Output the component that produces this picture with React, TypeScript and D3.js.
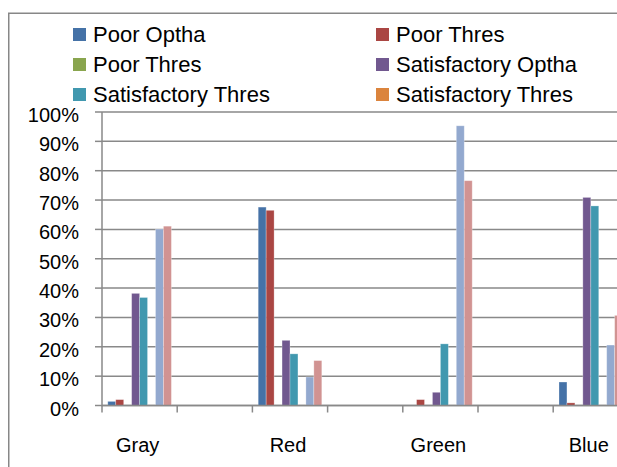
import React from "react";
import * as d3 from "d3";

const categories = ["Gray", "Red", "Green", "Blue"];
const slots = ["Gray", "gap1", "Red", "gap2", "Green", "gap3", "Blue"];
const legendLabels = [
  "Poor Optha",
  "Poor Thres",
  "Poor Thres",
  "Satisfactory Optha",
  "Satisfactory Thres",
  "Satisfactory Thres",
];
const poorOptha = [1.4, 67.6, 0, 8.0];
const poorThres = [2.0, 66.5, 2.0, 0.9];
const poorThres2 = [0, 0, 0, 0];
const satOptha = [38.2, 22.2, 4.5, 70.9];
const satThres = [36.8, 17.6, 21.0, 68.0];
const satThres2 = [0, 0, 0, 0];
const series7 = [60.1, 9.7, 95.3, 20.6];
const series8 = [61.1, 15.3, 76.6, 30.7];
const seriesValues = [poorOptha, poorThres, poorThres2, satOptha, satThres, satThres2, series7, series8];
const colors = ["#4572A7", "#AA4643", "#89A54E", "#71588F", "#4198AF", "#DB843D", "#93A9CF", "#D19392"];
const yTicks = [0, 10, 20, 30, 40, 50, 60, 70, 80, 90, 100];

const FONT = "'Liberation Sans', Arial, sans-serif";

export default function App() {
  const W = 617;
  const H = 467;
  const x = d3.scaleBand<string>().domain(slots).range([102, 628.4]).padding(0);
  const bw = x.bandwidth();
  const inner = d3
    .scaleBand<number>()
    .domain(d3.range(seriesValues.length))
    .range([5.8, bw - 5.8])
    .padding(0);
  const y = d3.scaleLinear().domain([0, 100]).range([405.5, 112]);
  const grid = "#898989";

  return (
    <svg
      width={W}
      height={H}
      style={{ position: "absolute", left: 0, top: 0, background: "#fff" }}
      fontFamily={FONT}
    >
      <rect x={0} y={0} width={W} height={H} fill="#fff" />
      {/* chart border */}
      <rect x={8.75} y={13.25} width={W + 20} height={H + 20} fill="none" stroke="#878787" strokeWidth={1.5} />

      {/* legend */}
      {legendLabels.map((lab, i) => {
        const col = i % 2;
        const row = Math.floor(i / 2);
        const sx = col === 0 ? 73 : 376;
        const cy = 34.5 + row * 30;
        return (
          <g key={"lg" + i}>
            <rect x={sx} y={cy - 6.5} width={13} height={13} fill={colors[i]} />
            <text x={sx + 20} y={cy + 7.5} fontSize={22} fill="#000">
              {lab}
            </text>
          </g>
        );
      })}

      {/* gridlines */}
      {yTicks.map((t) => (
        <g key={"g" + t}>
          <line x1={102} x2={W} y1={y(t)} y2={y(t)} stroke={grid} strokeWidth={1.5} />
          <line x1={95} x2={102} y1={y(t)} y2={y(t)} stroke={grid} strokeWidth={1.5} />
          <text x={79} y={y(t) + 10} textAnchor="end" fontSize={20} fill="#000">
            {t + "%"}
          </text>
        </g>
      ))}

      {/* bars */}
      {categories.map((c, ci) => (
        <g key={"c" + c} transform={`translate(${x(c)},0)`}>
          {seriesValues.map((vals, si) => {
            const v = vals[ci];
            if (!v) return null;
            return (
              <rect
                key={"b" + si}
                x={inner(si)}
                y={y(v)}
                width={inner.bandwidth()}
                height={y(0) - y(v)}
                fill={colors[si]}
                stroke="#ffffff"
                strokeOpacity={0.35}
                strokeWidth={0.8}
              />
            );
          })}
        </g>
      ))}

      {/* axes */}
      <line x1={102} x2={102} y1={y(100)} y2={y(0) + 0.75} stroke={grid} strokeWidth={1.5} />
      <line x1={102} x2={W} y1={y(0)} y2={y(0)} stroke={grid} strokeWidth={1.5} />
      {slots.map((s) => (
        <line key={"xt" + s} x1={x(s)!} x2={x(s)!} y1={y(0)} y2={y(0) + 7} stroke={grid} strokeWidth={1.5} />
      ))}
      {categories.map((c) => (
        <text key={"xl" + c} x={x(c)! + bw / 2 - 2} y={452} textAnchor="middle" fontSize={20} fill="#000">
          {c}
        </text>
      ))}
    </svg>
  );
}
